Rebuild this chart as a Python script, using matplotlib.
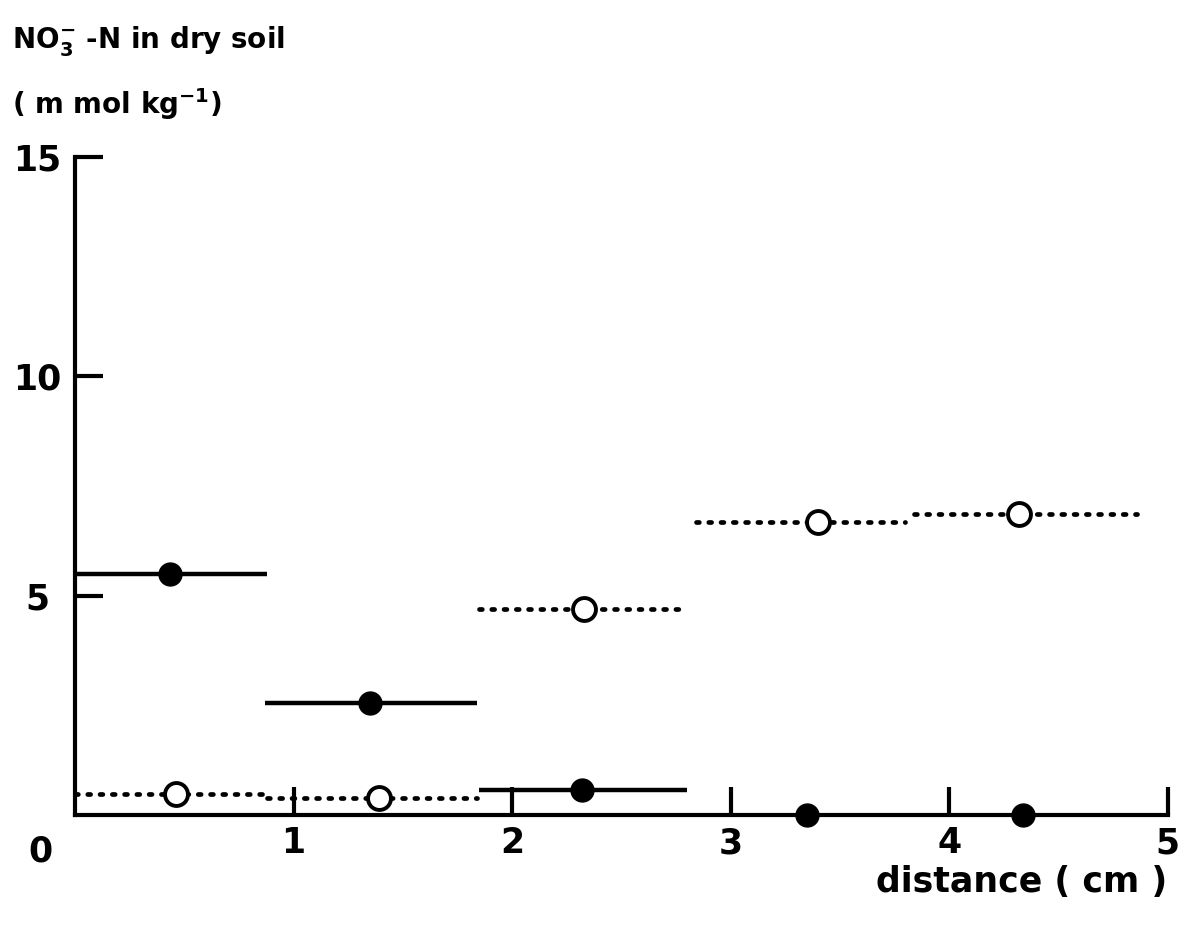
import matplotlib.pyplot as plt

# interval edges of the soil slices (cm)
filled_left = [0.0, 0.87, 1.85, 2.84, 3.84]
filled_right = [0.88, 1.84, 2.80, 3.80, 4.86]
filled_x = [0.435, 1.35, 2.32, 3.35, 4.34]
filled_y = [5.5, 2.55, 0.57, 0.0, 0.0]

open_left = [0.0, 0.88, 1.85, 2.84, 3.84]
open_right = [0.88, 1.84, 2.80, 3.80, 4.86]
open_x = [0.46, 1.39, 2.33, 3.40, 4.32]
open_y = [0.48, 0.39, 4.70, 6.68, 6.86]

x_ticks = [1, 2, 3, 4, 5]
y_ticks = [5, 10, 15]

plt.rcParams['font.family'] = ['DejaVu Sans']
plt.rcParams['font.weight'] = 'bold'
plt.rcParams['mathtext.default'] = 'bf'

fig = plt.figure(figsize=(11.83, 9.25), dpi=100)
ax = fig.add_axes([0.0634, 0.119, 0.9236, 0.711])

# solid segments (filled symbols), skip the ones on the axis
for l, r, y in zip(filled_left, filled_right, filled_y):
    if y > 0:
        ax.hlines(y, l, r, colors='black', linewidth=3.2, zorder=2)

# dotted segments (open symbols)
for l, r, y in zip(open_left, open_right, open_y):
    ax.hlines(y, l, r, colors='black', linewidth=3.4,
              linestyles=(0, (0.6, 2.0)), capstyle='round', zorder=2)

ax.plot(filled_x, filled_y, 'o', color='black', markersize=16.5, zorder=4,
        clip_on=False)
ax.plot(open_x, open_y, 'o', markerfacecolor='white', markeredgecolor='black',
        markeredgewidth=2.8, markersize=16.5, zorder=4, clip_on=False)

ax.set_xlim(0, 5)
ax.set_ylim(0, 15)
ax.spines['top'].set_visible(False)
ax.spines['right'].set_visible(False)
ax.spines['left'].set_linewidth(3)
ax.spines['bottom'].set_linewidth(3)

ax.set_xticks(x_ticks)
ax.set_yticks(y_ticks)
ax.set_xticklabels([str(t) for t in x_ticks])
ax.set_yticklabels([str(t) for t in y_ticks], ha='center')
ax.tick_params(direction='in', length=20, width=3, labelsize=25)
ax.tick_params(axis='x', pad=8)
ax.tick_params(axis='y', pad=27)

ax.text(-0.16, -0.45, '0', transform=ax.transData, fontsize=25,
        ha='center', va='top')

fig.text(0.01, 0.956, r'NO$_3^{-}$ -N in dry soil', fontsize=20,
         ha='left', va='center')
fig.text(0.01, 0.888, r'( m mol kg$^{-1}$)', fontsize=20,
         ha='left', va='center')
fig.text(0.987, 0.046, 'distance ( cm )', fontsize=25, ha='right', va='center')

fig.savefig('out.png', dpi=100)
